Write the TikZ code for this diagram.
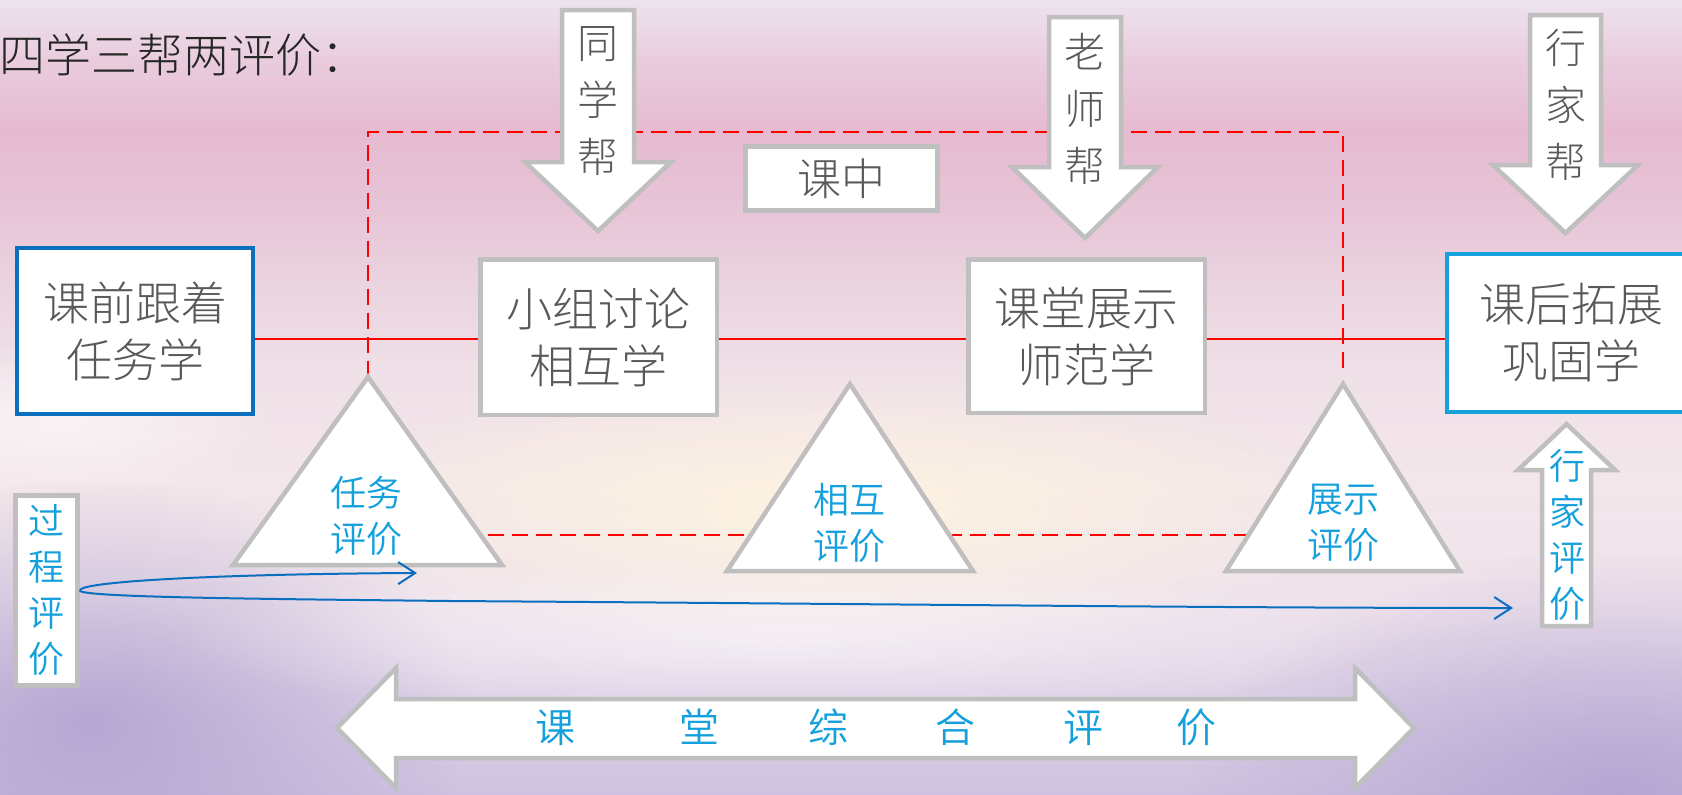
\documentclass[tikz,border=0pt]{standalone}
\usepackage{fontspec}
\IfFontExistsTF{Noto Sans CJK SC Light}{\setmainfont{Noto Sans CJK SC Light}}{\setmainfont{Noto Sans CJK SC}}
\IfFontExistsTF{Noto Sans CJK SC DemiLight}{\newfontfamily\evalfont{Noto Sans CJK SC DemiLight}}{\newfontfamily\evalfont{Noto Sans CJK SC}}
\usetikzlibrary{arrows.meta,fadings,calc}
\definecolor{boxgray}{HTML}{BFBFBF}
\definecolor{darkblue}{HTML}{0B6FC0}
\definecolor{lightblue}{HTML}{17A1DC}
\definecolor{txtblue}{HTML}{14A0DC}
\definecolor{txtgray}{HTML}{595959}
\definecolor{titlegray}{HTML}{262626}
\definecolor{redline}{HTML}{FF0000}
\definecolor{bgA}{HTML}{EDE3EE}
\definecolor{bgB}{HTML}{E9CCDD}
\definecolor{bgC}{HTML}{E6BAD0}
\definecolor{bgD}{HTML}{E7C3D6}
\definecolor{bgE}{HTML}{EAD3DF}
\definecolor{bgF}{HTML}{F0E1E8}
\definecolor{bgG}{HTML}{F3E6EA}
\definecolor{bgH}{HTML}{EFE3EC}
\definecolor{bgI}{HTML}{DDD0E6}
\definecolor{bgJ}{HTML}{CFC2E0}
\definecolor{purpleA}{HTML}{A99BCD}
\definecolor{warmA}{HTML}{FFF5DF}
\tikzfading[name=fuzzyglow, inner color=transparent!0, outer color=transparent!100]
\begin{document}
\begin{tikzpicture}[x=1pt,y=-1pt,
  graybox/.style={draw=boxgray, line width=4.5pt, fill=white, inner sep=0pt},
  blubox/.style={draw=#1, line width=4pt, fill=white, inner sep=0pt},
  boxtxt/.style={text=txtgray, align=center, font=\fontsize{46}{57}\selectfont},
  helptxt/.style={text=txtgray, align=center, font=\fontsize{41}{57}\selectfont, inner sep=0pt},
  evaltxt/.style={text=txtblue, align=center, font=\evalfont\fontsize{36}{46}\selectfont, inner sep=0pt},
  shapeline/.style={draw=boxgray, line width=4.5pt, fill=white},
  reddash/.style={draw=redline, line width=2.3pt, dash pattern=on 16pt off 8pt},
  redsolid/.style={draw=redline, line width=1.8pt},
  flowcurve/.style={draw=darkblue, line width=2pt, -{Straight Barb[length=17pt,width=22pt]}},
]
\path[use as bounding box] (0,0) rectangle (1682,795);
% background
\begin{scope}
\clip (0,0) rectangle (1682,795);
\fill[top color=bgA, bottom color=bgB] (0,0) rectangle (1682,61);
\fill[top color=bgB, bottom color=bgC] (0,60) rectangle (1682,131);
\fill[top color=bgC, bottom color=bgD] (0,130) rectangle (1682,201);
\fill[top color=bgD, bottom color=bgE] (0,200) rectangle (1682,281);
\fill[top color=bgE, bottom color=bgF] (0,280) rectangle (1682,381);
\fill[top color=bgF, bottom color=bgG] (0,380) rectangle (1682,481);
\fill[top color=bgG, bottom color=bgH] (0,480) rectangle (1682,601);
\fill[top color=bgH, bottom color=bgI] (0,600) rectangle (1682,701);
\fill[top color=bgI, bottom color=bgJ] (0,700) rectangle (1682,795);
\fill[color=purpleA, path fading=fuzzyglow, opacity=.75] (90,720) ellipse [x radius=380, y radius=240];
\fill[color=purpleA, path fading=fuzzyglow, opacity=.7] (1620,790) ellipse [x radius=430, y radius=240];
\fill[color=warmA, path fading=fuzzyglow, opacity=.9] (830,510) ellipse [x radius=540, y radius=140];
\fill[white, path fading=fuzzyglow, opacity=.6] (60,420) ellipse [x radius=220, y radius=80];
\fill[white, path fading=fuzzyglow, opacity=.5] (780,640) ellipse [x radius=620, y radius=80];
\end{scope}

% key coordinates
\coordinate (t1a) at (368,377);
\coordinate (t1l) at (233,565);
\coordinate (t1r) at (502,565);
\coordinate (t2a) at (850,384);
\coordinate (t2l) at (727,571);
\coordinate (t2r) at (973,571);
\coordinate (t3a) at (1343,384);
\coordinate (t3l) at (1226,571);
\coordinate (t3r) at (1460,571);
\coordinate (dtop) at (0,132);
\coordinate (dlow) at (0,535);
\coordinate (rl) at (0,339);

% dashed red lines
\draw[reddash] (t1a) -- (t1a |- dtop) -- (t3a |- dtop) -- ($(t3a)+(0,-16)$);
\draw[reddash] (t1a |- dlow) -- (t2a |- dlow);
\draw[reddash] (t2a |- dlow) -- (t3a |- dlow);

% boxes
\node[blubox=darkblue, boxtxt, minimum width=236pt, minimum height=166pt] (b1) at (135,331) {课前跟着\\任务学};
\node[graybox, boxtxt, minimum width=236.5pt, minimum height=155.5pt] (b2) at (598.5,337) {小组讨论\\相互学};
\node[graybox, boxtxt, minimum width=236.5pt, minimum height=153.5pt] (b3) at (1086.5,336) {课堂展示\\师范学};
\node[blubox=lightblue, boxtxt, minimum width=248pt, minimum height=158pt] (b4) at (1571,333) {课后拓展\\巩固学};

% red solid line
\draw[redsolid] (b1.east |- rl) -- (b2.west |- rl);
\draw[redsolid] (b2.east |- rl) -- (b3.west |- rl);
\draw[redsolid] (b3.east |- rl) -- (b4.west |- rl);

% triangles
\draw[shapeline] (t1a) -- (t1r) -- (t1l) -- cycle;
\draw[shapeline] (t2a) -- (t2r) -- (t2l) -- cycle;
\draw[shapeline] (t3a) -- (t3r) -- (t3l) -- cycle;
\node[evaltxt] (e1) at (366,516) {任务\\评价};
\node[evaltxt] (e2) at (849,523) {相互\\评价};
\node[evaltxt] (e3) at (1343,523) {展示\\评价};

% down arrows
\draw[shapeline] (562,10) -- (634,10) -- (634,162) -- (671,162) -- (598,231) -- (525,162) -- (562,162) -- cycle;
\node[helptxt] (h1) at (598,101) {同\\学\\帮};
\draw[shapeline] (1049,17) -- (1121,17) -- (1121,167) -- (1158,167) -- (1085,238) -- (1012,167) -- (1049,167) -- cycle;
\node[helptxt] (h2) at (1085,108.5) {老\\师\\帮};
\draw[shapeline] (1530,15) -- (1601,15) -- (1601,165) -- (1638,165) -- (1565.5,233) -- (1493,165) -- (1530,165) -- cycle;
\node[helptxt] (h3) at (1566,104.5) {行\\家\\帮};

% lesson box
\node[graybox, minimum width=192pt, minimum height=64pt, font=\fontsize{44}{50}\selectfont, text=txtgray] (kz) at (841.5,178.5) {课中};

% up arrow
\draw[shapeline] (1566.5,424) -- (1615,470) -- (1591,470) -- (1591,626) -- (1542,626) -- (1542,470) -- (1518,470) -- cycle;
\node[evaltxt] (hj) at (1567,535) {行\\家\\评\\价};

% process evaluation box
\node[graybox, evaltxt, minimum width=62pt, minimum height=190pt] (gc) at (46.5,590.5) {过\\程\\评\\价};

% double arrow
\draw[shapeline] (337,728) -- (396,668) -- (396,699) -- (1355,699) -- (1355,668) -- (1414,728) -- (1355,788) -- (1355,758) -- (396,758) -- (396,788) -- cycle;
\node[anchor=west, inner sep=0pt, text=txtblue, font=\evalfont\fontsize{40}{44}\selectfont] (zh) at (535,727) {课\hspace{104pt}堂\hspace{89pt}综\hspace{87pt}合\hspace{88pt}评\hspace{73pt}价};

% title
\node[anchor=west, inner sep=0pt, text=titlegray, font=\fontsize{46}{50}\selectfont] (title) at (-1,55) {四学三帮两评价：};

% blue curves
\coordinate (tipA) at (417,573);
\coordinate (tipB) at (1513,608);
\coordinate (lm) at (450,601);
\draw[flowcurve] (gc.east) .. controls +(0,-9) and +(-200,1) .. (tipA);
\draw[flowcurve] (gc.east) .. controls +(0,7) and +(-180,-2) .. (lm) .. controls +(450,3) and +(-300,0) .. (tipB);
\end{tikzpicture}
\end{document}
